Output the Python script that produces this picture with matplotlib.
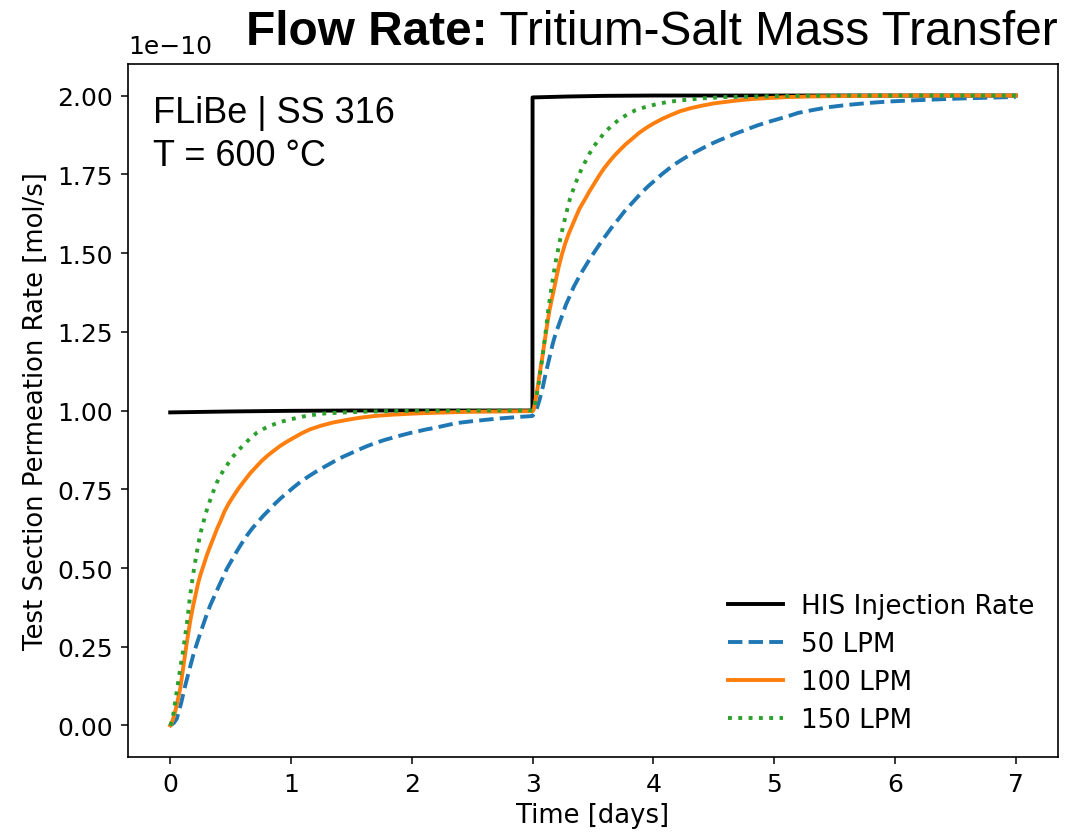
import matplotlib
matplotlib.use("Agg")
import matplotlib.pyplot as plt
import numpy as np

# ---- data (units of 1e-10 mol/s) ----
t_his = [0.0, 0.5, 1.0, 1.5, 2.0, 2.999, 3.0, 3.3, 3.6, 4.0, 7.0]
v_his = [0.994, 0.997, 0.999, 1.0, 1.0, 1.0, 1.994, 1.997, 1.999, 2.0, 2.0]

t_50 = [0.0, 0.03, 0.055, 0.09, 0.12, 0.155, 0.19, 0.225, 0.26, 0.295, 0.33, 0.365, 0.40, 0.435,
        0.468, 0.51, 0.55, 0.59, 0.633, 0.68, 0.73, 0.776, 0.826, 0.87, 0.92, 0.97, 1.018,
        1.08, 1.15, 1.22, 1.29, 1.36, 1.43, 1.5, 1.569, 1.63, 1.70, 1.77, 1.844, 1.91, 1.98,
        2.05, 2.12, 2.19, 2.25, 2.32, 2.39, 2.5, 2.6, 2.7, 2.8, 2.9, 2.98,
        3.0, 3.03, 3.055, 3.085, 3.11, 3.14, 3.165, 3.19, 3.22, 3.25, 3.275, 3.31, 3.34, 3.375,
        3.41, 3.445, 3.48, 3.515, 3.55, 3.59, 3.63, 3.67, 3.716, 3.76, 3.81, 3.86, 3.908,
        3.96, 4.02, 4.07, 4.129, 4.19, 4.26, 4.33, 4.404, 4.47, 4.54, 4.61, 4.68, 4.77, 4.86,
        4.95, 5.04, 5.12, 5.2, 5.32, 5.45, 5.6, 5.8, 5.95, 6.11, 6.3, 6.5, 6.75, 6.96, 7.0]
v_50 = [0.0, 0.008, 0.022, 0.07, 0.12, 0.172, 0.222, 0.265, 0.305, 0.344, 0.38, 0.41, 0.44, 0.469,
        0.497, 0.525, 0.552, 0.577, 0.602, 0.626, 0.648, 0.668, 0.687, 0.705, 0.723, 0.739, 0.755,
        0.774, 0.792, 0.809, 0.824, 0.839, 0.853, 0.865, 0.877, 0.887, 0.897, 0.906, 0.914, 0.921, 0.928,
        0.934, 0.94, 0.945, 0.95, 0.956, 0.961, 0.966, 0.97, 0.974, 0.977, 0.98, 0.982,
        0.983, 1.0, 1.03, 1.075, 1.12, 1.168, 1.209, 1.243, 1.275, 1.307, 1.335, 1.365, 1.392, 1.417,
        1.441, 1.463, 1.485, 1.505, 1.525, 1.547, 1.568, 1.589, 1.61, 1.632, 1.653, 1.674, 1.694,
        1.713, 1.733, 1.75, 1.768, 1.785, 1.802, 1.817, 1.832, 1.845, 1.857, 1.868, 1.879, 1.892, 1.905,
        1.916, 1.926, 1.935, 1.945, 1.954, 1.963, 1.97, 1.977, 1.981, 1.984, 1.987, 1.99, 1.993, 1.995, 1.995]

t_100 = [0.0, 0.01, 0.025, 0.045, 0.065, 0.083, 0.11, 0.138, 0.165, 0.19, 0.21, 0.23, 0.25, 0.275,
         0.30, 0.33, 0.36, 0.386, 0.42, 0.45, 0.485, 0.523, 0.57, 0.62, 0.665, 0.716, 0.76, 0.81,
         0.86, 0.908, 0.97, 1.03, 1.09, 1.156, 1.25, 1.35, 1.46, 1.569, 1.7, 1.85, 2.0, 2.12, 2.3,
         2.5, 2.75, 2.99,
         3.0, 3.01, 3.025, 3.045, 3.06, 3.08, 3.095, 3.11, 3.125, 3.138, 3.16, 3.18, 3.2, 3.22, 3.245,
         3.27, 3.3, 3.33, 3.36, 3.39, 3.43, 3.468, 3.51, 3.55, 3.59, 3.633, 3.675, 3.72, 3.77, 3.826,
         3.88, 3.94, 4.0, 4.074, 4.15, 4.22, 4.31, 4.404, 4.5, 4.6, 4.71, 4.82, 4.95, 5.1, 5.3, 5.5,
         5.75, 6.0, 6.5, 7.0]
v_100 = [0.0, 0.006, 0.022, 0.05, 0.085, 0.117, 0.19, 0.265, 0.33, 0.38, 0.415, 0.45, 0.478, 0.507,
         0.537, 0.568, 0.597, 0.623, 0.652, 0.68, 0.705, 0.728, 0.755, 0.78, 0.802, 0.823, 0.841, 0.858,
         0.873, 0.887, 0.902, 0.915, 0.928, 0.94, 0.952, 0.962, 0.97, 0.977, 0.983, 0.987, 0.99, 0.992, 0.994,
         0.996, 0.997, 0.998,
         0.998, 1.003, 1.035, 1.08, 1.12, 1.167, 1.207, 1.245, 1.282, 1.314, 1.355, 1.39, 1.428, 1.462, 1.498,
         1.53, 1.562, 1.589, 1.616, 1.642, 1.668, 1.694, 1.72, 1.745, 1.768, 1.789, 1.808, 1.826, 1.845, 1.863,
         1.881, 1.897, 1.911, 1.926, 1.939, 1.95, 1.96, 1.968, 1.975, 1.98, 1.985, 1.989, 1.992, 1.995, 1.997, 1.998,
         1.999, 2.0, 2.0, 2.0]

t_150 = [0.0, 0.02, 0.041, 0.058, 0.075, 0.092, 0.11, 0.125, 0.14, 0.153, 0.165, 0.178, 0.19, 0.205,
         0.22, 0.235, 0.25, 0.27, 0.289, 0.31, 0.335, 0.36, 0.386, 0.415, 0.45, 0.485, 0.523,
         0.57, 0.62, 0.665, 0.716, 0.77, 0.82, 0.88, 0.936, 1.02, 1.1, 1.2, 1.29, 1.45, 1.6, 1.8,
         2.0, 2.5, 2.99,
         3.0, 3.01, 3.02, 3.035, 3.05, 3.065, 3.08, 3.093, 3.105, 3.118, 3.13, 3.145, 3.16, 3.175,
         3.19, 3.21, 3.23, 3.25, 3.27, 3.29, 3.31, 3.34, 3.37, 3.4, 3.435, 3.47, 3.51, 3.555, 3.6,
         3.66, 3.72, 3.785, 3.85, 3.93, 4.02, 4.11, 4.21, 4.4, 4.6, 5.0, 5.5, 7.0]
v_150 = [0.0, 0.02, 0.075, 0.118, 0.16, 0.203, 0.244, 0.288, 0.33, 0.372, 0.412, 0.447, 0.48, 0.515,
         0.549, 0.58, 0.61, 0.638, 0.666, 0.693, 0.72, 0.746, 0.771, 0.794, 0.815, 0.835, 0.855,
         0.876, 0.895, 0.913, 0.929, 0.941, 0.951, 0.959, 0.966, 0.974, 0.981, 0.987, 0.991, 0.994, 0.996, 0.998,
         0.999, 1.0, 1.0,
         1.0, 1.005, 1.02, 1.05, 1.082, 1.125, 1.165, 1.203, 1.24, 1.28, 1.32, 1.36, 1.399, 1.435,
         1.47, 1.508, 1.546, 1.58, 1.612, 1.643, 1.673, 1.705, 1.735, 1.762, 1.789, 1.815, 1.84, 1.863, 1.884,
         1.906, 1.925, 1.94, 1.953, 1.963, 1.972, 1.979, 1.984, 1.991, 1.995, 1.998, 2.0, 2.0]

labels = ["HIS Injection Rate", "50 LPM", "100 LPM", "150 LPM"]
scale = 1e-10

fig = plt.figure(figsize=(10.66, 8.37), dpi=100)
ax = fig.add_axes([0.120, 0.0944, 0.8725, 0.8279])

lw = 2.8
ax.plot(t_his, np.array(v_his) * scale, color="black", lw=lw, label=labels[0])
ax.plot(t_50, np.array(v_50) * scale, color="#1f77b4", lw=lw, ls=(0, (3.7, 1.6)), label=labels[1])
ax.plot(t_100, np.array(v_100) * scale, color="#ff7f0e", lw=lw, label=labels[2])
ax.plot(t_150, np.array(v_150) * scale, color="#2ca02c", lw=lw, ls=(0, (1, 1.65)), label=labels[3])

ax.tick_params(labelsize=18, length=5, width=1.1, pad=6)
ax.set_xlabel("Time [days]", fontsize=18.6, labelpad=4)
ax.set_ylabel("Test Section Permeation Rate [mol/s]", fontsize=18.6, labelpad=6)
ax.set_yticks(np.arange(0, 2.01, 0.25) * scale)
ax.ticklabel_format(axis="y", style="sci", scilimits=(0, 0))
ax.yaxis.get_offset_text().set_fontsize(18)
ax.yaxis.OFFSETTEXTPAD = 8
for s in ax.spines.values():
    s.set_linewidth(1.2)

leg = ax.legend(loc="lower right", frameon=False, fontsize=18.8, handlelength=2.1,
                handletextpad=0.7, borderaxespad=0.5, labelspacing=0.47)

ax.text(0.027, 0.955, "FLiBe | SS 316\nT = 600 °C", transform=ax.transAxes,
        fontsize=26, family="Liberation Sans", va="top", ha="left", linespacing=1.3)

# Title: bold part + regular part, right-aligned to axes
fig.canvas.draw()
r = fig.canvas.get_renderer()
title_y = 0.946
t2 = fig.text(0.9925, title_y, " Tritium-Salt Mass Transfer", ha="right", va="baseline",
              fontsize=34.4, family="Liberation Sans")
bb = t2.get_window_extent(renderer=r)
x_left = bb.x0 / fig.bbox.width
fig.text(x_left, title_y, "Flow Rate:", ha="right", va="baseline", fontsize=34.4,
         fontweight="bold", family="Liberation Sans")

fig.savefig("out.png", dpi=100)
